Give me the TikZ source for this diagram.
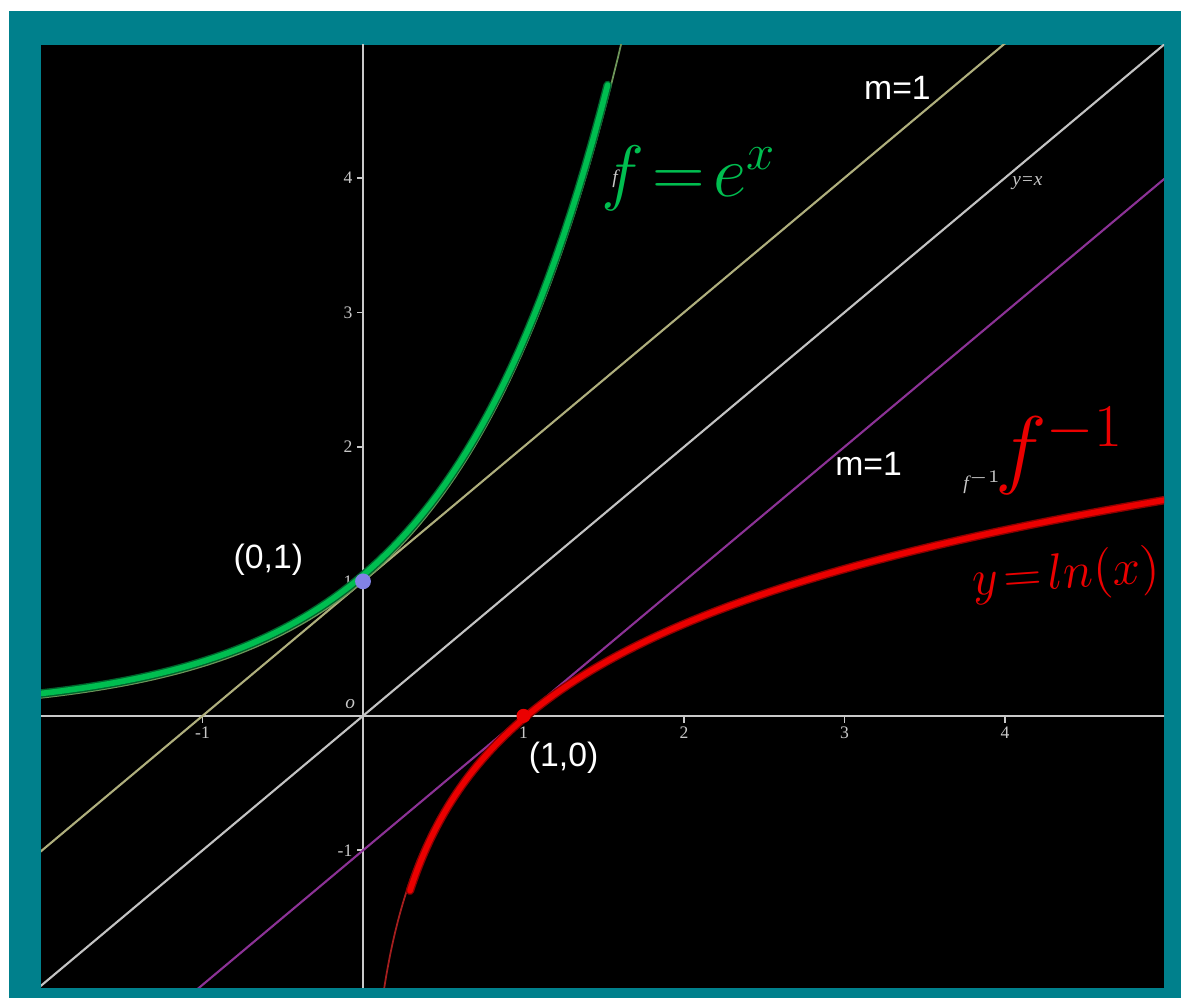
\documentclass[tikz,border=0pt]{standalone}
\usepackage{fontspec}
\usepackage{tikz}
\setmainfont{Liberation Sans}
\newfontfamily\tickfont{Liberation Serif}
\definecolor{FrameTeal}{RGB}{0,128,140}
\definecolor{AxisGray}{RGB}{200,200,200}
\definecolor{DiagGray}{RGB}{195,195,195}
\definecolor{TanKhaki}{RGB}{175,175,125}
\definecolor{TanPurple}{RGB}{140,50,150}
\definecolor{ExpThin}{RGB}{110,150,90}
\definecolor{LnThin}{RGB}{165,30,30}
\definecolor{HandGreen}{RGB}{0,190,80}
\definecolor{HandGreenDark}{RGB}{0,100,45}
\definecolor{HandRed}{RGB}{235,0,0}
\definecolor{HandRedDark}{RGB}{140,0,0}
\definecolor{PointBlue}{RGB}{130,130,230}

\begin{document}
\begin{tikzpicture}[
  x=1.605cm, y=1.345cm,
  axisline/.style={draw=AxisGray, line width=0.5pt},
  ticklabel/.style={font=\tickfont\fontsize{5}{5}\selectfont, text=AxisGray, inner sep=1pt},
  smalllabel/.style={font=\tickfont\itshape\fontsize{5.5}{5.5}\selectfont, text=AxisGray, inner sep=1pt},
  diag/.style={draw=DiagGray, line width=0.6pt},
  tankhaki/.style={draw=TanKhaki, line width=0.6pt},
  tanpurple/.style={draw=TanPurple, line width=0.6pt},
  thinexp/.style={draw=ExpThin, line width=0.5pt},
  thinln/.style={draw=LnThin, line width=0.5pt},
  handgreen/.style={draw=HandGreen, line width=1.6pt, line cap=round, line join=round},
  handred/.style={draw=HandRed, line width=1.6pt, line cap=round, line join=round},
  ptlabel/.style={font=\fontsize{9.6}{10}\selectfont, text=white},
  greentext/.style={text=HandGreen, font=\fontsize{22}{22}\selectfont},
  redtext/.style={text=HandRed, font=\fontsize{24}{24}\selectfont, inner sep=0pt}
]

% Frame and plot window
\useasboundingbox (-2.262,-2.097) rectangle (5.097,5.323);
\fill[FrameTeal] (-2.206,-2.097) rectangle (5.097,5.242);
\fill[black] (-2.006,-2.022) rectangle (4.991,4.989);

\begin{scope}
\clip (-2.006,-2.022) rectangle (4.991,4.989);

% Axes
\draw[axisline] (-2.1,0) -- (5.1,0);
\draw[axisline] (0,-2.1) -- (0,5.1);
\foreach \t in {-1,1,2,3,4} {
  \draw[axisline] (\t,0) -- (\t,-0.05);
  \node[ticklabel, below] (xt\t) at (\t,-0.05) {\t};
  \draw[axisline] (0,\t) -- (-0.04,\t);
  \node[ticklabel, left] (yt\t) at (-0.04,\t) {\t};
}
\node[smalllabel] (orig) at (-0.08,0.09) {o};

% Lines y=x+1, y=x, y=x-1
\draw[tankhaki] (-3,-2) -- (5,6);
\draw[diag] (-3,-3) -- (6,6);
\draw[tanpurple] (-2,-3) -- (6,5);

% Curves
\draw[thinexp] plot[domain=-2.1:1.63, samples=100] (\x,{exp(\x)});
\draw[thinln] plot[domain=-2.1:1.63, samples=100] ({exp(\x)},\x);

% Hand strokes
\draw[HandGreenDark, line width=2.4pt, line cap=round] plot[domain=-2.1:1.54, samples=80] (\x-0.015,{exp(\x)+0.03});
\draw[handgreen] plot[domain=-2.1:1.54, samples=80] (\x-0.015,{exp(\x)+0.03});
\draw[HandRedDark, line width=2.4pt, line cap=round] plot[domain=-1.3:1.64, samples=80] ({exp(\x)+0.02},\x);
\draw[handred] plot[domain=-1.3:1.64, samples=80] ({exp(\x)+0.02},\x);
\end{scope}

% Points
\node[circle, fill=HandRed, inner sep=0pt, minimum size=4pt] (p10) at (1,0) {};
\node[circle, fill=PointBlue, inner sep=0pt, minimum size=4.5pt] (p01) at (0,1) {};

% Labels
\node[ptlabel] (m1top) at (3.33,4.67) {m=1};
\node[ptlabel] (m1bot) at (3.15,1.87) {m=1};
\node[ptlabel] (lbl01) at (-0.59,1.16) {(0,1)};
\node[ptlabel] (lbl10) at (1.25,-0.31) {(1,0)};
\node[smalllabel] (yeqx) at (4.14,3.96) {y=x};
\node[smalllabel] (fsmall) at (1.57,3.99) {f};
\node[smalllabel] (finvsmall) at (3.86,1.74) {f$^{-1}$};

% Handwriting
\node[greentext] (fexp) at (2.03,4.0) {$f\!=\!e^{x}$};
\node[redtext] (finv) at (4.34,1.97) {$f^{-1}$};
\node[redtext, font=\fontsize{15.5}{15.5}\selectfont, rotate=4] (lnx) at (4.38,1.04) {$y\!=\!ln(x)$};

\end{tikzpicture}
\end{document}
